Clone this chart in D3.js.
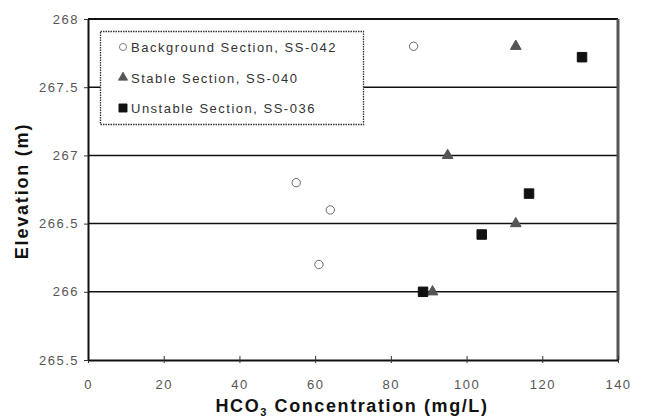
<!DOCTYPE html>
<html>
<head>
<meta charset="utf-8">
<script src="https://cdn.jsdelivr.net/npm/d3@7"></script>
<style>
  html, body { margin: 0; padding: 0; background: #fff; }
  svg { display: block; font-family: Arial, "Liberation Sans", sans-serif; }
</style>
</head>
<body>
<svg id="chart" width="659" height="418"></svg>
<script>
// HCO3 concentration (mg/L) vs elevation (m) at three sections
const backgroundX = [86, 55, 64, 61];
const backgroundY = [267.8, 266.8, 266.6, 266.2];
const stableX = [113, 95, 113, 91];
const stableY = [267.8, 267.0, 266.5, 266.0];
const unstableX = [130.5, 116.5, 104, 88.5];
const unstableY = [267.72, 266.72, 266.42, 266.0];

const xTicks = [0, 20, 40, 60, 80, 100, 120, 140];
const yTicks = [265.5, 266, 266.5, 267, 267.5, 268];
const legendLabels = ["Background Section, SS-042", "Stable Section, SS-040", "Unstable Section, SS-036"];

const svg = d3.select("#chart");
const m = { left: 88, right: 618, top: 19, bottom: 360 };

const x = d3.scaleLinear().domain([0, 140]).range([m.left, m.right]);
const y = d3.scaleLinear().domain([265.5, 268]).range([m.bottom, m.top]);

// horizontal gridlines
svg.append("g").selectAll("line")
  .data(yTicks.filter(v => v > 265.5 && v < 268))
  .join("line")
  .attr("x1", m.left).attr("x2", m.right)
  .attr("y1", d => y(d)).attr("y2", d => y(d))
  .attr("stroke", "#111").attr("stroke-width", 1.5);

// plot frame
svg.append("line").attr("x1", m.left).attr("x2", m.right).attr("y1", m.top).attr("y2", m.top)
  .attr("stroke", "#111").attr("stroke-width", 2);
svg.append("line").attr("x1", m.right).attr("x2", m.right).attr("y1", m.top).attr("y2", m.bottom)
  .attr("stroke", "#555").attr("stroke-width", 3);

// axes
const xAxis = svg.append("g").attr("transform", `translate(0,${m.bottom})`)
  .call(d3.axisBottom(x).tickValues(xTicks).tickSize(4).tickSizeOuter(0));
const yAxis = svg.append("g").attr("transform", `translate(${m.left},0)`)
  .call(d3.axisLeft(y).tickValues(yTicks).tickSize(4).tickSizeOuter(0)
    .tickFormat(d => d3.format("~g")(d)));

[xAxis, yAxis].forEach(a => {
  a.select(".domain").attr("stroke", "#111").attr("stroke-width", 2);
  a.selectAll(".tick line").attr("stroke", "#333");
  a.selectAll(".tick text").attr("fill", "#555").attr("font-size", 13)
    .attr("letter-spacing", 1.5)
    .attr("font-family", "Arial, 'Liberation Sans', sans-serif");
});
xAxis.selectAll(".tick line").attr("y1", -4).attr("y2", 3);
xAxis.selectAll(".tick text").attr("dy", 0).attr("y", 29);
yAxis.selectAll(".tick text").attr("x", -9);

// axis titles
const xt = svg.append("text").attr("x", 352).attr("y", 412).attr("text-anchor", "middle")
  .attr("font-size", 18).attr("font-weight", "bold").attr("fill", "#111")
  .attr("letter-spacing", 1.6);
xt.append("tspan").text("HCO");
xt.append("tspan").text("3").attr("font-size", 11).attr("dy", 4);
xt.append("tspan").text(" Concentration (mg/L)").attr("dy", -4);

svg.append("text").attr("transform", "translate(28,191) rotate(-90)")
  .attr("text-anchor", "middle").attr("font-size", 18).attr("font-weight", "bold")
  .attr("letter-spacing", 1.8)
  .attr("fill", "#111").text("Elevation (m)");

// symbols
const circleSym = d3.symbol().type(d3.symbolCircle).size(55);
const triSym = d3.symbol().type(d3.symbolTriangle).size(50);
const sqSym = d3.symbol().type(d3.symbolSquare).size(90);

function drawSeries(xs, ys, sym, fill, stroke) {
  svg.append("g").selectAll("path")
    .data(xs.map((v, i) => [v, ys[i]]))
    .join("path")
    .attr("transform", d => `translate(${x(d[0])},${y(d[1])})`)
    .attr("d", sym)
    .attr("fill", fill).attr("stroke", stroke).attr("stroke-width", 1);
}
drawSeries(backgroundX, backgroundY, circleSym, "#fff", "#666");
drawSeries(stableX, stableY, triSym, "#555", "#555");
drawSeries(unstableX, unstableY, sqSym, "#111", "#111");

// legend
const lg = svg.append("g");
lg.append("rect").attr("x", 100.5).attr("y", 31.5).attr("width", 263).attr("height", 93)
  .attr("fill", "#fff").attr("stroke", "#333").attr("stroke-width", 1.3)
  .attr("stroke-dasharray", "1.5,1");
const legendSyms = [
  { sym: circleSym, fill: "#fff", stroke: "#666" },
  { sym: triSym, fill: "#555", stroke: "#555" },
  { sym: sqSym, fill: "#111", stroke: "#111" }
];
legendLabels.forEach((label, i) => {
  const cy = 47 + i * 30.5;
  lg.append("path").attr("transform", `translate(123,${cy}) scale(0.85)`)
    .attr("d", legendSyms[i].sym).attr("fill", legendSyms[i].fill)
    .attr("stroke", legendSyms[i].stroke);
  lg.append("text").attr("x", 131).attr("y", cy + 5)
    .attr("font-size", 13).attr("letter-spacing", 1.5)
    .attr("fill", "#333").text(label);
});
</script>
</body>
</html>
